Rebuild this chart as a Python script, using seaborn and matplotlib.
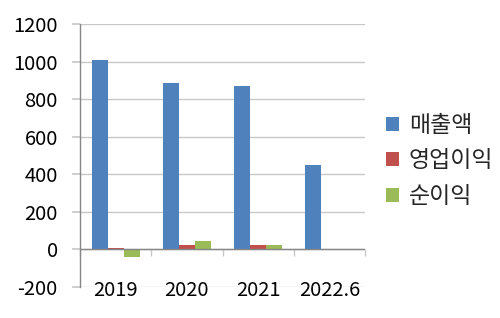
import matplotlib
matplotlib.use("Agg")
import matplotlib.pyplot as plt
import seaborn as sns
import pandas as pd

categories = ["2019", "2020", "2021", "2022.6"]
series_names = ["매출액", "영업이익", "순이익"]
sales = [1010, 885, 870, 448]
op_profit = [6, 21, 21, 4]
net_profit = [-41, 43, 21, 1]
colors = ["#4F81BD", "#C0504D", "#9BBB59"]
yticks = [-200, 0, 200, 400, 600, 800, 1000, 1200]

sns.set_theme(style="white")
plt.rcParams["font.family"] = ["Noto Sans CJK KR", "DejaVu Sans"]
plt.rcParams["axes.unicode_minus"] = False

rows = []
for name, vals in zip(series_names, [sales, op_profit, net_profit]):
    for c, v in zip(categories, vals):
        rows.append({"연도": c, "구분": name, "값": v})
df = pd.DataFrame(rows)

fig = plt.figure(figsize=(5.0, 3.18), dpi=100)
ax = fig.add_axes([0.16, 0.0975, 0.57, 0.827])

sns.barplot(data=df, x="연도", y="값", hue="구분", order=categories,
            hue_order=series_names, palette=colors, saturation=1,
            width=0.675, linewidth=0, ax=ax, legend=True)

ymin, ymax = yticks[0], yticks[-1]
ax.set_ylim(ymin, ymax)
ax.set_xlim(-0.5, len(categories) - 0.5)
ax.set_yticks(yticks)
ax.set_yticklabels([str(t) for t in yticks])
ax.yaxis.grid(True, color="#C8C8C8", linewidth=1)
ax.set_axisbelow(True)
ax.set_xlabel("")
ax.set_ylabel("")

for s in ["top", "right", "bottom"]:
    ax.spines[s].set_visible(False)
ax.spines["left"].set_color("#868686")
ax.spines["left"].set_linewidth(1)

ax.axhline(0, color="#868686", linewidth=1, zorder=1.5)

ax.tick_params(axis="y", which="major", left=True, length=6, color="#C8C8C8",
               pad=10, labelsize=14.5, labelcolor="black")
ax.tick_params(axis="x", which="major", bottom=False, length=0, pad=-5,
               labelsize=14.5, labelcolor="black")

# category separator ticks on the zero line
frac0 = (0 - ymin) / (ymax - ymin)
sec = ax.secondary_xaxis(frac0)
sec.set_xticks([i - 0.5 for i in range(len(categories) + 1)])
sec.set_xticklabels([])
sec.tick_params(axis="x", direction="out", length=5, color="#C8C8C8", width=1)
sec.spines["bottom"].set_visible(False)
sec.spines["top"].set_visible(False)

handles, labels = ax.get_legend_handles_labels()
ax.get_legend().remove()
fig.legend(handles, labels, loc="center left", bbox_to_anchor=(0.772, 0.494),
           frameon=False, fontsize=16.5, handlelength=0.55, handleheight=0.55,
           handletextpad=0.45, labelspacing=0.55, borderpad=0, borderaxespad=0)

fig.savefig("out.png", dpi=100)
